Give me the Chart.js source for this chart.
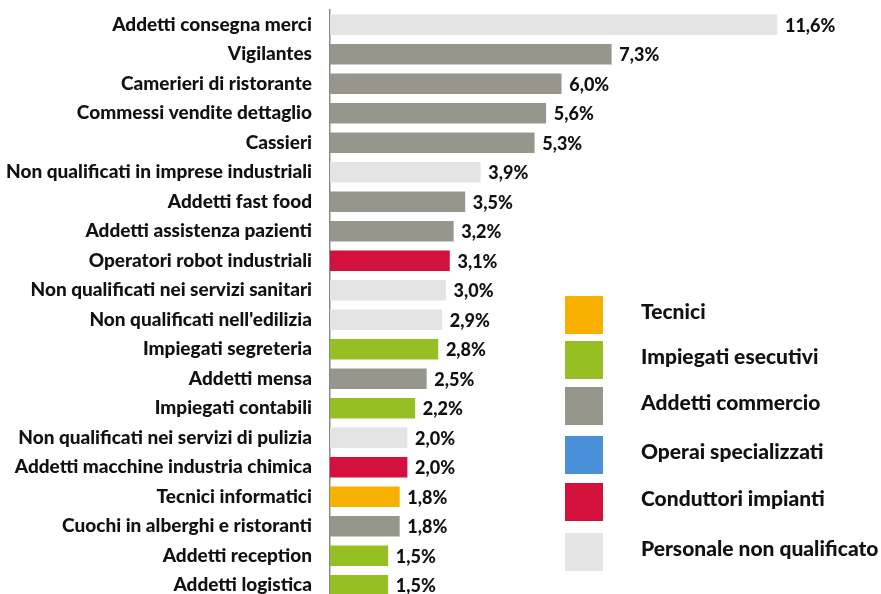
<!DOCTYPE html>
<html>
<head>
<meta charset="utf-8">
<script src="https://cdn.jsdelivr.net/npm/chart.js@4.4.1/dist/chart.umd.min.js"></script>
<style>
  html, body { margin: 0; padding: 0; background: #ffffff; overflow: hidden; }
  #wrap { position: relative; width: 881px; height: 600px; }
</style>
</head>
<body>
<div id="wrap"><canvas id="c"></canvas></div>
<script>
const categories = [
  "Addetti consegna merci",
  "Vigilantes",
  "Camerieri di ristorante",
  "Commessi vendite dettaglio",
  "Cassieri",
  "Non qualificati in imprese industriali",
  "Addetti fast food",
  "Addetti assistenza pazienti",
  "Operatori robot industriali",
  "Non qualificati nei servizi sanitari",
  "Non qualificati nell'edilizia",
  "Impiegati segreteria",
  "Addetti mensa",
  "Impiegati contabili",
  "Non qualificati nei servizi di pulizia",
  "Addetti macchine industria chimica",
  "Tecnici informatici",
  "Cuochi in alberghi e ristoranti",
  "Addetti reception",
  "Addetti logistica"
];
const values = [11.6, 7.3, 6.0, 5.6, 5.3, 3.9, 3.5, 3.2, 3.1, 3.0, 2.9, 2.8, 2.5, 2.2, 2.0, 2.0, 1.8, 1.8, 1.5, 1.5];
const groupOfCategory = [
  "Personale non qualificato",
  "Addetti commercio",
  "Addetti commercio",
  "Addetti commercio",
  "Addetti commercio",
  "Personale non qualificato",
  "Addetti commercio",
  "Addetti commercio",
  "Conduttori impianti",
  "Personale non qualificato",
  "Personale non qualificato",
  "Impiegati esecutivi",
  "Addetti commercio",
  "Impiegati esecutivi",
  "Personale non qualificato",
  "Conduttori impianti",
  "Tecnici",
  "Addetti commercio",
  "Impiegati esecutivi",
  "Impiegati esecutivi"
];
const legendGroups = ["Tecnici", "Impiegati esecutivi", "Addetti commercio", "Operai specializzati", "Conduttori impianti", "Personale non qualificato"];
const groupColors = ["#f7af00", "#95bf22", "#97968d", "#4a90d9", "#d4113c", "#e4e4e4"];

const colorOf = g => groupColors[legendGroups.indexOf(g)];
const FONT = "Lato, 'Noto Sans', sans-serif";
const WEIGHT = "900";
const TEXT = "#111111";

const valueLabels = {
  id: "valueLabels",
  afterDatasetsDraw(chart) {
    const ctx = chart.ctx;
    const meta = chart.getDatasetMeta(0);
    ctx.save();
    ctx.font = WEIGHT + " 18px " + FONT;
    ctx.fillStyle = TEXT;
    ctx.textAlign = "left";
    ctx.textBaseline = "middle";
    meta.data.forEach((bar, i) => {
      const txt = values[i].toFixed(1).replace(".", ",") + "%";
      ctx.fillText(txt, bar.x + 8, bar.y + 1);
    });
    ctx.restore();
  }
};

const groupLegend = {
  id: "groupLegend",
  afterDraw(chart) {
    const ctx = chart.ctx;
    ctx.save();
    const x0 = 565, size = 38;
    const tops = [296, 341, 387, 436, 483, 533];
    legendGroups.forEach((g, i) => {
      const y = tops[i];
      ctx.fillStyle = groupColors[i];
      ctx.fillRect(x0, y, size, size);
      ctx.fillStyle = TEXT;
      ctx.font = WEIGHT + " 21px " + FONT;
      ctx.textAlign = "left";
      ctx.textBaseline = "middle";
      ctx.fillText(g, 641, y + size / 2 - 3);
    });
    ctx.restore();
  }
};

new Chart(document.getElementById("c"), {
  type: "bar",
  data: {
    labels: categories,
    datasets: [{
      data: values,
      backgroundColor: groupOfCategory.map(colorOf),
      borderWidth: 0,
      barThickness: 20
    }]
  },
  options: {
    indexAxis: "y",
    responsive: true,
    maintainAspectRatio: false,
    animation: false,
    layout: { padding: { top: 10, right: 0, bottom: 0, left: 0 } },
    plugins: { legend: { display: false }, tooltip: { enabled: false } },
    scales: {
      x: { display: false, min: 0, max: 14.3 },
      y: {
        grid: { display: false, drawTicks: false },
        border: { display: true, color: "#8a8a8a", width: 1.5 },
        ticks: {
          color: TEXT,
          padding: 18,
          font: { family: FONT, size: 19, weight: WEIGHT }
        },
        afterFit(scale) {
          scale.width = 330;
          scale.paddingTop = 0;
          scale.paddingBottom = 0;
        }
      }
    }
  },
  plugins: [valueLabels, groupLegend]
});
</script>
</body>
</html>
